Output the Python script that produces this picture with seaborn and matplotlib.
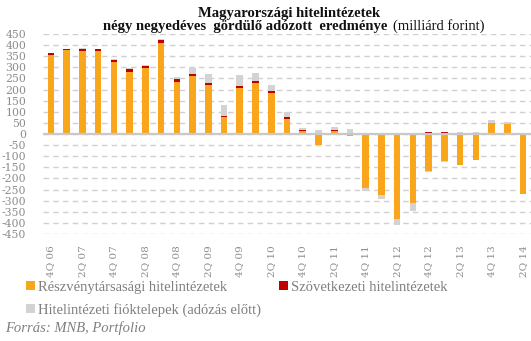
import numpy as np
import pandas as pd
import matplotlib
matplotlib.use("Agg")
import matplotlib.pyplot as plt
from matplotlib.patches import Patch
import seaborn as sns

# Quarterly rolling four-quarter after-tax profit, billion HUF
quarters = ["4Q 06",
            "1Q 07", "2Q 07", "3Q 07", "4Q 07",
            "1Q 08", "2Q 08", "3Q 08", "4Q 08",
            "1Q 09", "2Q 09", "3Q 09", "4Q 09",
            "1Q 10", "2Q 10", "3Q 10", "4Q 10",
            "1Q 11", "2Q 11", "3Q 11", "4Q 11",
            "1Q 12", "2Q 12", "3Q 12", "4Q 12",
            "1Q 13", "2Q 13", "3Q 13", "4Q 13",
            "1Q 14", "2Q 14"]

reszvenytarsasagi = [355, 377, 374, 374, 324, 280, 297, 410, 235, 262,
                     221, 78, 208, 230, 185, 69, 15, -48, 15, -9,
                     -242, -274, -381, -309, -166, -121, -139, -117, 51, 46,
                     -269]
szovetkezeti = [10, 4, 9, 9, 11, 13, 11, 13, 13, 10,
                9, 4, 9, 9, 9, 9, 4, 4, 5, 4,
                4, 4, 4, 4, 9, 9, 4, 4, 0, 0,
                0]
fioktelepek = [1, 1, 3, 1, 3, 6, 3, 4, 9, 27,
               41, 50, 49, 36, 27, 22, 9, 15, 13, 18,
               -14, -17, -27, -36, -4, -5, 4, 4, 13, 9,
               5]

series_names = ["Részvénytársasági hitelintézetek",
                "Szövetkezeti hitelintézetek",
                "Hitelintézeti fióktelepek (adózás előtt)"]
series_values = [reszvenytarsasagi, szovetkezeti, fioktelepek]
colors = ["#F9A61C", "#C00000", "#D3D3D3"]

sns.set_theme(style="white")
plt.rcParams["font.family"] = ["DejaVu Serif"]

fig = plt.figure(figsize=(5.31, 3.41), dpi=100)
ax = fig.add_axes([43 / 531, 1 - 234 / 341, 488 / 531, 200 / 341])

# Stack positives upward and negatives downward, as in a stacked column chart
pos_base = np.zeros(len(quarters))
neg_base = np.zeros(len(quarters))
for name, vals, col in zip(series_names, series_values, colors):
    v = np.asarray(vals, dtype=float)
    base = np.where(v >= 0, pos_base, neg_base)
    df = pd.DataFrame({"quarter": quarters, "value": v})
    sns.barplot(data=df, x="quarter", y="value", order=quarters,
                color=col, saturation=1, width=0.42, bottom=base,
                linewidth=0, ax=ax, zorder=2)
    pos_base = pos_base + np.where(v > 0, v, 0)
    neg_base = neg_base + np.where(v < 0, v, 0)

ax.set_xlim(-0.5, len(quarters) - 0.5)
ax.set_ylim(-450, 450)
yt = np.arange(-450, 451, 50)
ax.set_yticks(yt)
ax.set_yticklabels([f"{t:d}" for t in yt], fontsize=7.8, color="#8C8C8C")
ax.yaxis.grid(True, linestyle=(0, (4, 3)), color="#D0D0D0", linewidth=1)
ax.set_axisbelow(True)
ax.axhline(0, color="#C8C8C8", linewidth=1.6, zorder=3)

xt = np.arange(0, len(quarters), 2)
ax.set_xticks(xt)
ax.set_xticklabels([quarters[i] for i in xt], rotation=90, fontsize=7.5,
                   color="#8C8C8C")
ax.tick_params(axis="x", length=0, pad=8)
ax.tick_params(axis="y", length=0, pad=12)
ax.set_xlabel("")
ax.set_ylabel("")
for s in ax.spines.values():
    s.set_visible(False)

# Title
fig.text(289 / 531, 1 - 17 / 341, "Magyarországi hitelintézetek",
         ha="center", va="baseline", fontsize=10.5, fontweight="bold",
         family="Liberation Serif", color="#111111")
fig.text(387 / 531, 1 - 30 / 341, "négy negyedéves  gördülő adózott  eredménye",
         ha="right", va="baseline", fontsize=10.5, fontweight="bold",
         family="Liberation Serif", color="#111111")
fig.text(393 / 531, 1 - 30 / 341, "(milliárd forint)",
         ha="left", va="baseline", fontsize=10.5,
         family="Liberation Serif", color="#111111")

# Legend
handles = [Patch(facecolor=colors[0], edgecolor="none"),
           Patch(facecolor=colors[2], edgecolor="none"),
           Patch(facecolor=colors[1], edgecolor="none")]
labels = [series_names[0], series_names[2], series_names[1]]
fig.legend(handles, labels, ncol=2, loc="upper left",
           bbox_to_anchor=(26 / 531, 1 - 281 / 341), frameon=False,
           prop={"family": "Liberation Serif", "size": 10.5},
           labelcolor="#7F7F7F", handlelength=0.6, handleheight=0.6,
           handletextpad=0.25, columnspacing=1.2, labelspacing=0.6,
           borderpad=0, borderaxespad=0)

fig.text(5 / 531, 1 - 332 / 341, "Forrás: MNB, Portfolio", ha="left",
         va="baseline", fontsize=10.5, style="italic",
         family="Liberation Serif", color="#7F7F7F")

fig.savefig("out.png", dpi=100)
